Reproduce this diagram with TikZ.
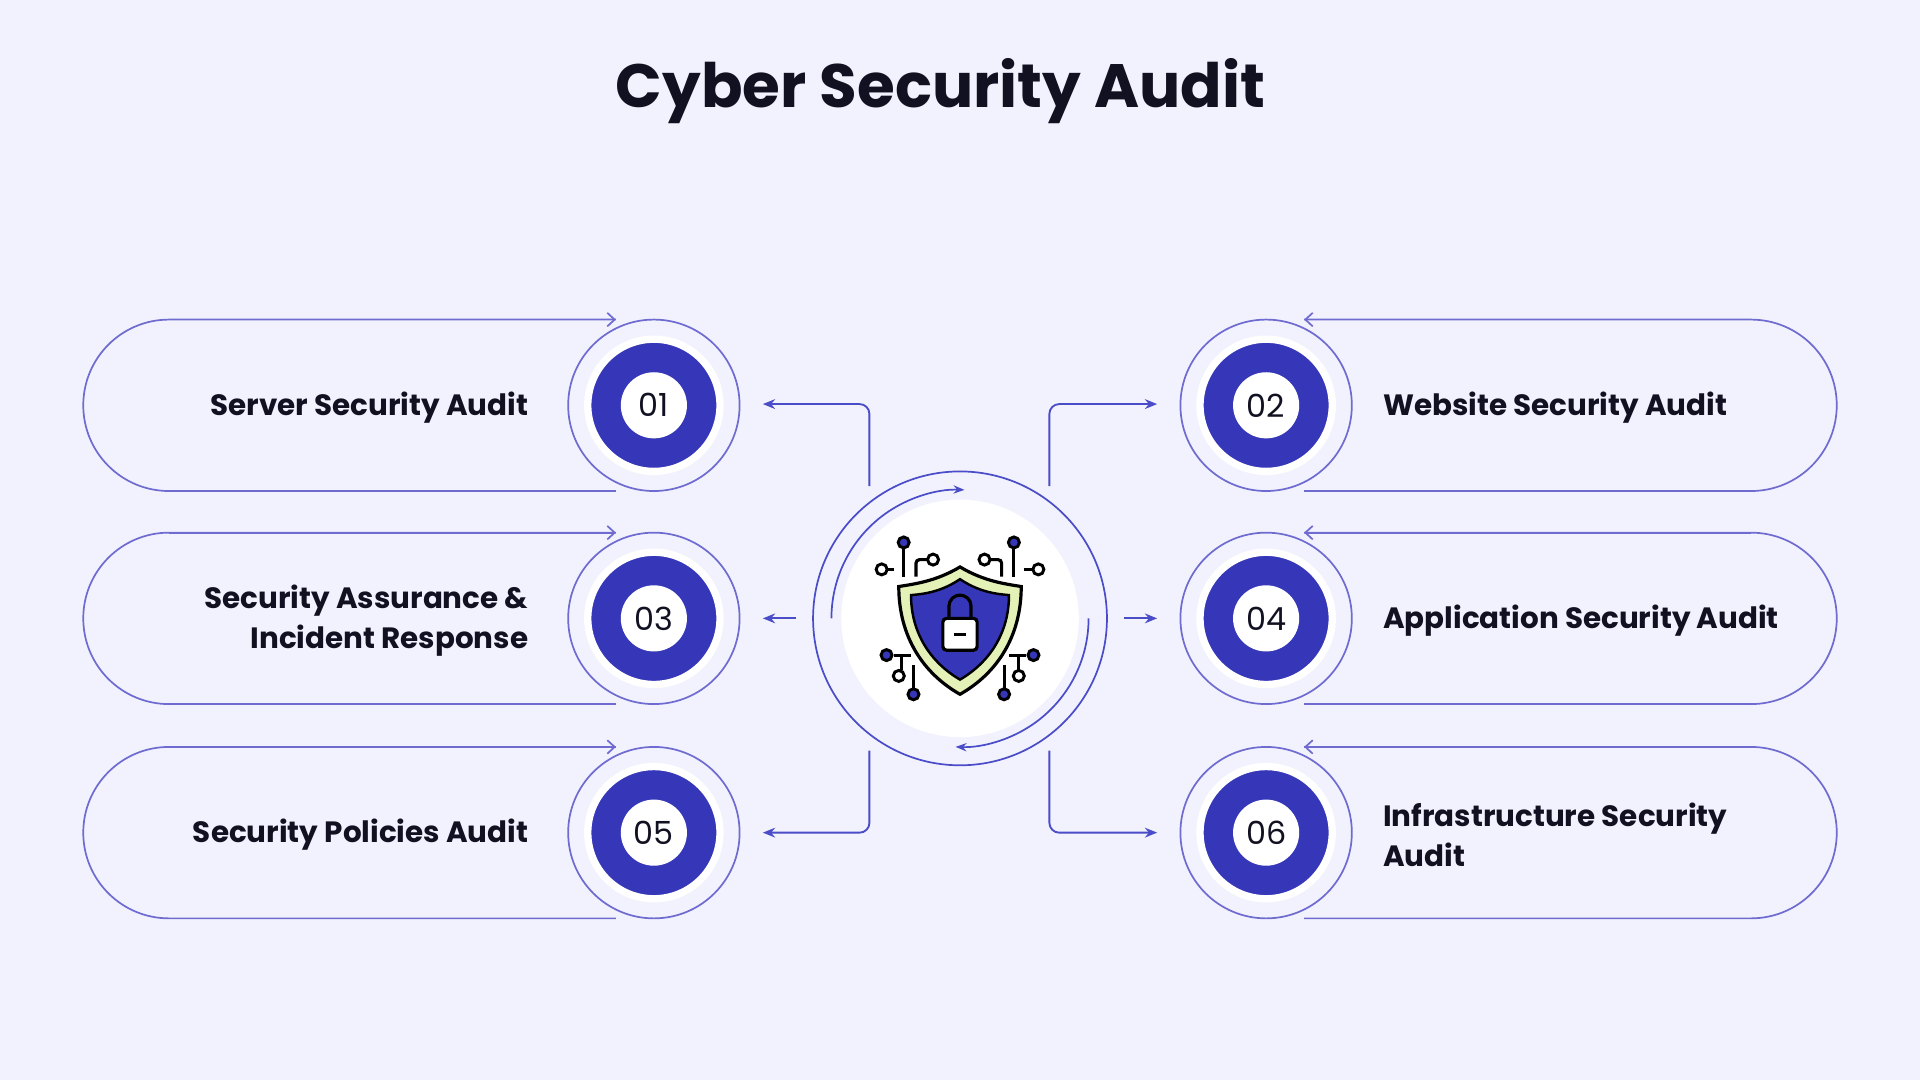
\documentclass[tikz,border=0pt]{standalone}
\usepackage{fontspec}
\setmainfont{Poppins}
\usetikzlibrary{arrows.meta, positioning}
\definecolor{bg}{HTML}{F1F2FD}
\definecolor{ink}{HTML}{111122}
\definecolor{ring}{HTML}{6F6BD0}
\definecolor{blue}{HTML}{3637B8}
\definecolor{line}{HTML}{4A4CC8}
\definecolor{lime}{HTML}{E4F2B8}
\tikzset{
  pill/.style={draw=ring, line width=1.4pt},
  ringc/.style={circle, draw=ring, line width=1.4pt, fill=bg, minimum size=140pt, inner sep=0pt},
  disc/.style={circle, fill=blue, draw=white, line width=6pt, minimum size=108pt},
  num/.style={circle, fill=white, minimum size=54pt, inner sep=0pt, font=\fontsize{26}{26}\selectfont, text=ink},
  label/.style={font=\bfseries\fontsize{24}{33}\selectfont, text=ink},
  connector/.style={draw=line, line width=1.5pt, rounded corners=8pt, -{Stealth[length=10pt,width=8pt]}},
  tip/.style={-{Straight Barb[length=6pt,width=11pt]}},
  wire/.style={draw=black, line width=2.6pt},
  pin/.style={circle, draw=black, line width=2.4pt, minimum size=9pt, inner sep=0pt},
}
\begin{document}
\begin{tikzpicture}[x=1pt, y=-1pt]
\fill[bg] (0,0) rectangle (1568,882);
\node[font=\bfseries\fontsize{50}{50}\selectfont, text=ink] (title) at (768,74) {Cyber Security Audit};

% left cards
\foreach \n/\y/\txt in {01/331/{Server Security Audit}, 03/505/{Security Assurance \&\\Incident Response}, 05/680/{Security Policies Audit}}{
  \draw[pill] (503,\y-70) -- (138,\y-70) arc (270:90:70) -- (503,\y+70);
  \draw[pill, tip] (138,\y-70) -- (503,\y-70);
  \node[ringc] (ring\n) at (534,\y) {};
  \node[disc] (disc\n) at (534,\y) {};
  \node[num] (num\n) at (534,\y) {\n};
  \node[label, align=right, anchor=east] (lab\n) at (435,\y+2) {\txt};
}
% right cards
\foreach \n/\y/\txt in {02/331/{Website Security Audit}, 04/505/{Application Security Audit}, 06/680/{Infrastructure Security\\Audit}}{
  \draw[pill] (1065,\y-70) -- (1430,\y-70) arc (-90:90:70) -- (1065,\y+70);
  \draw[pill, tip] (1430,\y-70) -- (1065,\y-70);
  \node[ringc] (ring\n) at (1034,\y) {};
  \node[disc] (disc\n) at (1034,\y) {};
  \node[num] (num\n) at (1034,\y) {\n};
  \node[label, align=left, anchor=west] (lab\n) at (1126,\y+2) {\txt};
}

% centre
\node[circle, draw=line, line width=1.4pt, minimum size=240pt] (hub) at (784,505) {};
\node[circle, fill=white, minimum size=194pt] (core) at (784,505) {};
\draw[line, line width=1.4pt, -{Stealth[length=9pt]}] (679,505) arc (180:272:105);
\draw[line, line width=1.4pt, -{Stealth[length=9pt]}] (889,505) arc (0:92:105);

\coordinate (l1) at (710,397); \coordinate (l5) at (710,613); \coordinate (l3) at (650,505);
\coordinate (r2) at (857,397); \coordinate (r6) at (857,613); \coordinate (r4) at (918,505);
\coordinate (e1) at (623,330); \coordinate (e3) at (623,505); \coordinate (e5) at (623,680);
\coordinate (e2) at (945,330); \coordinate (e4) at (945,505); \coordinate (e6) at (945,680);
\draw[connector] (l1) |- (e1);
\draw[connector] (l3) -- (e3);
\draw[connector] (l5) |- (e5);
\draw[connector] (r2) |- (e2);
\draw[connector] (r4) -- (e4);
\draw[connector] (r6) |- (e6);

% icon
\begin{scope}[shift={(784,505)}]
  \draw[wire, fill=lime] (0,-42) .. controls (20,-30) and (38,-28) .. (50,-26) .. controls (50,15) and (30,45) .. (0,62) .. controls (-30,45) and (-50,15) .. (-50,-26) .. controls (-38,-28) and (-20,-30) .. (0,-42) -- cycle;
  \draw[line width=2pt, fill=blue] (0,-32) .. controls (15,-22) and (28,-20) .. (40,-19) .. controls (40,12) and (24,36) .. (0,50) .. controls (-24,36) and (-40,12) .. (-40,-19) .. controls (-28,-20) and (-15,-22) .. (0,-32) -- cycle;
  \draw[wire] (-9,0) -- (-9,-10) arc (180:360:9) -- (9,0);
  \draw[wire, fill=white, rounded corners=3pt] (-14,0) rectangle (14,26);
  \draw[wire] (-5,13) -- (5,13);
  % circuit
  \draw[wire] (-46,-34) -- (-46,-62); \node[pin, fill=blue] (p1) at (-46,-62) {};
  \draw[wire] (-54,-40) -- (-60,-40); \node[pin, fill=white] (p2) at (-64,-40) {};
  \draw[wire, rounded corners=3pt] (-36,-34) -- (-36,-48) -- (-26,-48); \node[pin, fill=white] (p3) at (-22,-48) {};
  \draw[wire] (44,-34) -- (44,-62); \node[pin, fill=blue] (p4) at (44,-62) {};
  \draw[wire] (52,-40) -- (60,-40); \node[pin, fill=white] (p5) at (64,-40) {};
  \draw[wire, rounded corners=3pt] (34,-34) -- (34,-48) -- (24,-48); \node[pin, fill=white] (p6) at (20,-48) {};
  \draw[wire] (-40,30) -- (-54,30); \node[pin, fill=blue] (p7) at (-60,30) {};
  \draw[wire] (-48,30) -- (-48,42); \node[pin, fill=white] (p8) at (-50,47) {};
  \draw[wire] (-38,38) -- (-38,58); \node[pin, fill=blue] (p9) at (-38,62) {};
  \draw[wire] (40,30) -- (54,30); \node[pin, fill=blue] (p10) at (60,30) {};
  \draw[wire] (48,30) -- (48,42); \node[pin, fill=white] (p11) at (48,47) {};
  \draw[wire] (36,38) -- (36,58); \node[pin, fill=blue] (p12) at (36,62) {};
\end{scope}
\end{tikzpicture}
\end{document}
